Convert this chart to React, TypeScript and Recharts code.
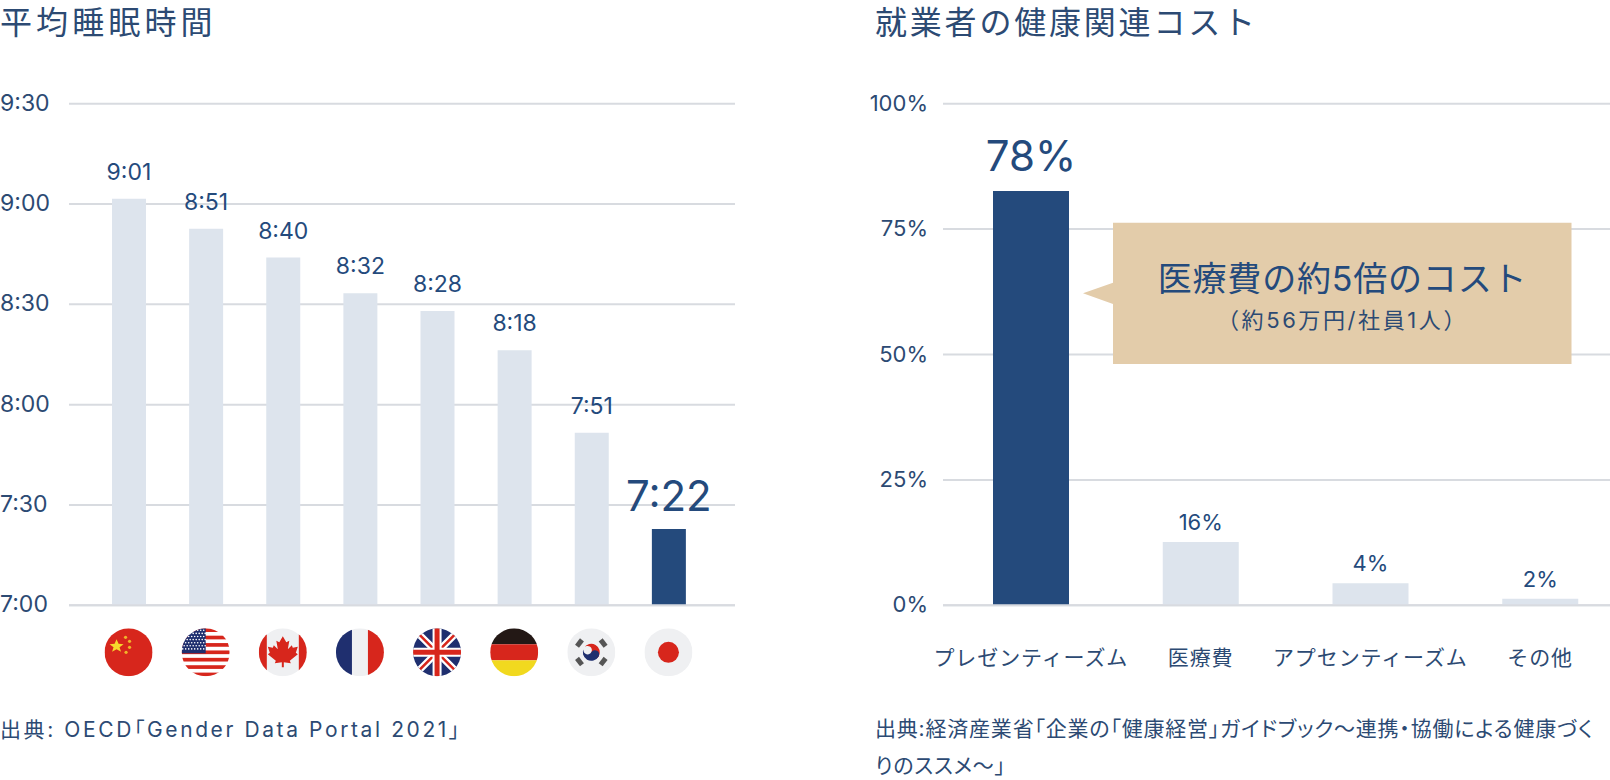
import { BarChart, Bar, Cell, CartesianGrid, LabelList, XAxis, YAxis } from "recharts";

// bar heights (minutes / percent); the printed labels don't quite match them
const countries = ["cn", "us", "ca", "fr", "gb", "de", "kr", "jp"];
const sleepMinutes = [541.6, 532.6, 524, 513.3, 508, 496.3, 471.6, 442.8];
const sleepLabels = ["9:01", "8:51", "8:40", "8:32", "8:28", "8:18", "7:51", "7:22"];
const sleepTicks = [420, 450, 480, 510, 540, 570];
const sleepTickLabels = ["7:00", "7:30", "8:00", "8:30", "9:00", "9:30"];

const costNames = ["プレゼンティーズム", "医療費", "アプセンティーズム", "その他"];
const costHeights = [82.6, 12.6, 4.4, 1.3];
const costLabels = ["78%", "16%", "4%", "2%"];
const costTicks = [0, 25, 50, 75, 100];

const NAVY = "#244a7c";
const TEXT = "#2c4a73";
const LIGHT = "#dde4ed";
const GRID = "#d8dbe0";
const FONT = 'Inter, "Noto Sans CJK JP", "Noto Sans", sans-serif';
const CJK = '"Noto Sans CJK JP", "Noto Sans", sans-serif';

const sleepData = countries.map((code, i) => ({
  code,
  value: sleepMinutes[i],
  label: sleepLabels[i],
  hot: i === countries.length - 1,
}));
const costData = costNames.map((name, i) => ({
  name,
  value: costHeights[i],
  label: costLabels[i],
  hot: i === 0,
}));

const RED = "#d7261c";
const BLUE = "#1f2f6f";
const PALE = "#eff0f2";

const Flag = ({ code }: { code: string }) => {
  const id = `clip-${code}`;
  const r = 24;
  let inner = null;
  if (code === "cn") {
    inner = (
      <>
        <rect x={-r} y={-r} width={48} height={48} fill={RED} />
        <polygon points="-12,-13 -10,-8.5 -5,-8 -9,-5 -7.5,-0.5 -12,-3 -16.5,-0.5 -15,-5 -19,-8 -14,-8.5" fill="#f6d92c" />
        {[[-3, -15], [1, -11], [1, -5], [-2.5, 0]].map(([x, y]) => (
          <circle key={`${x}${y}`} cx={x} cy={y} r={1.6} fill="#f0b52a" />
        ))}
      </>
    );
  } else if (code === "us") {
    const stripes = [0, 2, 4, 6, 8, 10, 12];
    const dots: number[][] = [];
    for (let row = 0; row < 7; row++) {
      for (let col = 0; col < 8; col++) dots.push([-23 + col * 3 + (row % 2) * 1.5, -22 + row * 3.1]);
    }
    inner = (
      <>
        <rect x={-r} y={-r} width={48} height={48} fill="#fff" />
        {stripes.map((s) => (
          <rect key={s} x={-r} y={-r + (s * 48) / 13} width={48} height={48 / 13} fill={RED} />
        ))}
        <rect x={-r} y={-r} width={24} height={25} fill={BLUE} />
        {dots.map(([x, y]) => (
          <circle key={`${x},${y}`} cx={x} cy={y} r={0.8} fill="#fff" />
        ))}
      </>
    );
  } else if (code === "ca") {
    inner = (
      <>
        <rect x={-r} y={-r} width={48} height={48} fill={PALE} />
        <rect x={-r} y={-r} width={8} height={48} fill={RED} />
        <rect x={16} y={-r} width={8} height={48} fill={RED} />
        <path
          d="M0,-16 L3.5,-10 L6.5,-11.5 L5,-3 L9,-7 L10,-4.5 L15,-5.5 L13,0.5 L15,2 L7,8.5 L8,11 L1,10 L1,15 L-1,15 L-1,10 L-8,11 L-7,8.5 L-15,2 L-13,0.5 L-15,-5.5 L-10,-4.5 L-9,-7 L-5,-3 L-6.5,-11.5 L-3.5,-10 Z"
          fill={RED}
        />
      </>
    );
  } else if (code === "fr") {
    inner = (
      <>
        <rect x={-r} y={-r} width={48} height={48} fill={PALE} />
        <rect x={-r} y={-r} width={16} height={48} fill={BLUE} />
        <rect x={8} y={-r} width={16} height={48} fill={RED} />
      </>
    );
  } else if (code === "gb") {
    inner = (
      <>
        <rect x={-r} y={-r} width={48} height={48} fill={BLUE} />
        <path d="M-24,-24 L24,24 M24,-24 L-24,24" stroke="#fff" strokeWidth={7} />
        <path d="M-24,-24 L24,24 M24,-24 L-24,24" stroke={RED} strokeWidth={2.5} />
        <path d="M0,-24 V24 M-24,0 H24" stroke="#fff" strokeWidth={9} />
        <path d="M0,-24 V24 M-24,0 H24" stroke={RED} strokeWidth={5} />
      </>
    );
  } else if (code === "de") {
    inner = (
      <>
        <rect x={-r} y={-r} width={48} height={16} fill="#231815" />
        <rect x={-r} y={-8} width={48} height={16} fill={RED} />
        <rect x={-r} y={8} width={48} height={16} fill="#f1d91f" />
      </>
    );
  } else if (code === "kr") {
    inner = (
      <>
        <rect x={-r} y={-r} width={48} height={48} fill={PALE} />
        <g transform="rotate(30)">
          <path d="M-8.5,0 A8.5,8.5 0 0 1 8.5,0 A4.25,4.25 0 0 1 0,0 A4.25,4.25 0 0 0 -8.5,0 Z" fill={RED} />
          <path d="M-8.5,0 A8.5,8.5 0 0 0 8.5,0 A4.25,4.25 0 0 0 0,0 A4.25,4.25 0 0 1 -8.5,0 Z" fill={BLUE} />
        </g>
        {[-52, 52, 128, 232].map((a) => (
          <rect key={a} x={-4} y={-17.5} width={8} height={5} fill="#555" transform={`rotate(${a})`} />
        ))}
      </>
    );
  } else {
    inner = (
      <>
        <rect x={-r} y={-r} width={48} height={48} fill={PALE} />
        <circle r={10.5} fill={RED} />
      </>
    );
  }
  return (
    <g>
      <clipPath id={id}>
        <circle r={r} />
      </clipPath>
      <g clipPath={`url(#${id})`}>{inner}</g>
    </g>
  );
};

const FlagTick = ({ x, y, payload }: any) => (
  <g transform={`translate(${x},${y + 41})`}>
    <Flag code={payload.value} />
  </g>
);

const SleepYTick = ({ y, payload }: any) => (
  <text x={0} y={y + 7} fontSize={23} fill={TEXT} fontFamily={FONT}>
    {sleepTickLabels[sleepTicks.indexOf(payload.value)]}
  </text>
);

const SleepLabel = ({ x, y, width, value, index }: any) => {
  const big = index === sleepData.length - 1;
  return (
    <text
      x={x + width / 2}
      y={y - (big ? 18 : 19)}
      textAnchor="middle"
      fontSize={big ? 42 : 23}
      fill={NAVY}
      fontFamily={FONT}
    >
      {value}
    </text>
  );
};

const CostLabel = ({ x, y, width, value, index }: any) => {
  const big = index === 0;
  return (
    <text
      x={x + width / 2}
      y={y - (big ? 20 : 12)}
      textAnchor="middle"
      fontSize={big ? 42 : 22}
      fill={NAVY}
      fontFamily={FONT}
    >
      {value}
    </text>
  );
};

const CostXTick = ({ x, y, payload }: any) => (
  <text x={x} y={y + 54} textAnchor="middle" fontSize={21} letterSpacing={0.9} fill={TEXT} fontFamily={CJK}>
    {payload.value}
  </text>
);

const CostYTick = ({ y, payload }: any) => (
  <text x={78} y={y + 7} textAnchor="end" fontSize={22} fill={TEXT} fontFamily={FONT}>
    {payload.value}%
  </text>
);

const textStyle = { position: "absolute", color: TEXT, fontFamily: FONT, margin: 0 } as const;

export default function App() {
  return (
    <div
      style={{
        position: "absolute",
        left: 0,
        top: 0,
        width: 1610,
        height: 780,
        overflow: "hidden",
        background: "#fff",
      }}
    >
      <div style={{ ...textStyle, left: 0, top: 1, fontSize: 32, letterSpacing: 4.1, lineHeight: "44px" }}>平均睡眠時間</div>
      <div style={{ ...textStyle, left: 875, top: 1, fontSize: 32, letterSpacing: 2.8, lineHeight: "44px" }}>
        就業者の健康関連コスト
      </div>

      <div style={{ position: "absolute", left: 0, top: 0 }}>
        <BarChart
          width={735}
          height={780}
          data={sleepData}
          margin={{ top: 103.7, right: 0, bottom: 0, left: 0 }}
          barSize={34}
        >
          <CartesianGrid vertical={false} stroke={GRID} strokeWidth={2} />
          <XAxis
            dataKey="code"
            height={174.7}
            interval={0}
            padding={{ left: 21, right: 28 }}
            axisLine={{ stroke: GRID, strokeWidth: 2 }}
            tickLine={false}
            tickMargin={0}
            tick={<FlagTick />}
          />
          <YAxis
            width={69}
            domain={[420, 570]}
            ticks={sleepTicks}
            axisLine={false}
            tickLine={false}
            tick={<SleepYTick />}
          />
          <Bar dataKey="value" isAnimationActive={false}>
            {sleepData.map((d) => (
              <Cell key={d.code} fill={d.hot ? NAVY : LIGHT} />
            ))}
            <LabelList dataKey="label" content={<SleepLabel />} />
          </Bar>
        </BarChart>
      </div>

      <div style={{ position: "absolute", left: 850, top: 0 }}>
        <BarChart
          width={775}
          height={780}
          data={costData}
          margin={{ top: 103.7, right: 0, bottom: 0, left: 0 }}
          barSize={76}
        >
          <CartesianGrid vertical={false} stroke={GRID} strokeWidth={2} />
          <XAxis
            dataKey="name"
            height={174.7}
            interval={0}
            padding={{ left: 3, right: 0 }}
            axisLine={{ stroke: GRID, strokeWidth: 2 }}
            tickLine={false}
            tickMargin={0}
            tick={<CostXTick />}
          />
          <YAxis
            width={93}
            domain={[0, 100]}
            ticks={costTicks}
            axisLine={false}
            tickLine={false}
            tick={<CostYTick />}
          />
          <Bar dataKey="value" isAnimationActive={false}>
            {costData.map((d) => (
              <Cell key={d.name} fill={d.hot ? NAVY : LIGHT} />
            ))}
            <LabelList dataKey="label" content={<CostLabel />} />
          </Bar>
        </BarChart>
      </div>

      {/* callout */}
      <svg style={{ position: "absolute", left: 1080, top: 220 }} width={500} height={150}>
        <polygon points="33,2.7 491.5,2.7 491.5,144 33,144 33,84 3,73.3 33,62.7" fill="#e3ccaa" />
      </svg>
      <div style={{ ...textStyle, left: 1113, width: 459, top: 255, textAlign: "center", fontSize: 34, letterSpacing: 0.8, lineHeight: "48px", color: NAVY }}>
        医療費の約5倍のコスト
      </div>
      <div style={{ ...textStyle, left: 1113, width: 459, top: 304, textAlign: "center", fontSize: 22, letterSpacing: 2.6, lineHeight: "32px" }}>
        （約56万円/社員1人）
      </div>

      <div style={{ ...textStyle, left: 0, top: 712, fontSize: 21, letterSpacing: 2.6, lineHeight: "36px", fontFeatureSettings: '"palt"' }}>
        出典: OECD「Gender Data Portal 2021」
      </div>
      <div style={{ ...textStyle, left: 875, top: 710, width: 735, fontSize: 21, letterSpacing: 0.8, lineHeight: "37px", fontFeatureSettings: '"palt"' }}>
        出典:経済産業省「企業の「健康経営」ガイドブック～連携・協働による健康づくりのススメ～」
      </div>
    </div>
  );
}
